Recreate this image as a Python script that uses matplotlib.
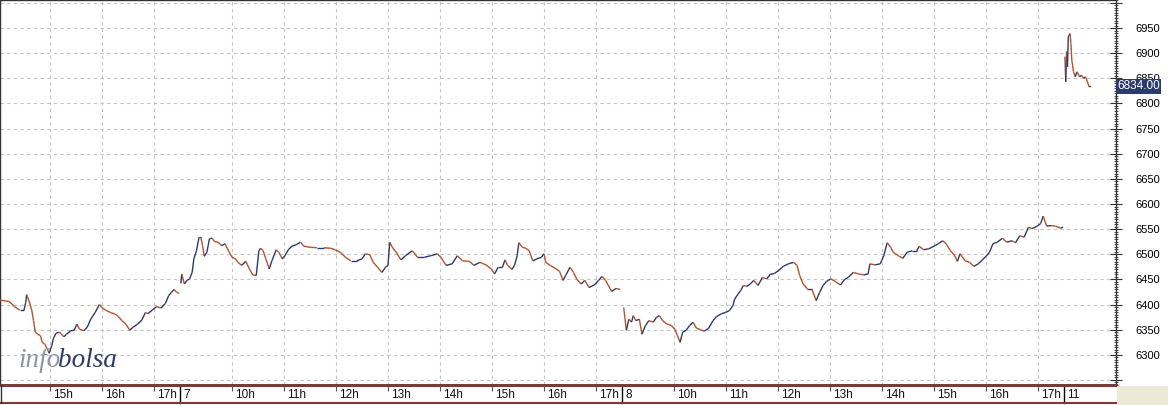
import numpy as np
import matplotlib.pyplot as plt
from matplotlib.collections import LineCollection
from matplotlib.lines import Line2D
from matplotlib.patches import Rectangle
from matplotlib.ticker import MultipleLocator
from matplotlib.transforms import ScaledTranslation, blended_transform_factory

# --- data (time, price) per session ---
t6 = ["14:02", "14:13", "14:19", "14:25", "14:30", "14:32", "14:33", "14:37", "14:39", "14:41",
      "14:43", "14:46", "14:49", "14:51", "14:54", "14:57", "14:59", "15:02", "15:04", "15:07",
      "15:11", "15:16", "15:19", "15:24", "15:28", "15:31", "15:34", "15:39", "15:43", "15:47",
      "15:52", "15:57", "16:00", "16:04", "16:10", "16:15", "16:19", "16:23", "16:28", "16:32",
      "16:36", "16:41", "16:46", "16:50", "16:53", "16:58", "17:03", "17:08", "17:13", "17:17",
      "17:20", "17:23", "17:26", "17:29"]
p6 = [6409, 6406, 6396, 6389, 6389, 6404, 6420, 6401, 6388, 6368,
      6345, 6341, 6338, 6325, 6321, 6311, 6303, 6318, 6333, 6343,
      6345, 6336, 6341, 6348, 6349, 6361, 6351, 6348, 6355, 6371,
      6384, 6400, 6394, 6389, 6384, 6381, 6376, 6368, 6360, 6349,
      6355, 6361, 6369, 6384, 6382, 6389, 6396, 6393, 6402, 6418,
      6424, 6430, 6425, 6422]

t7 = ["09:01", "09:02", "09:05", "09:08", "09:11", "09:14", "09:16", "09:19", "09:22", "09:24", "09:26",
      "09:28", "09:31", "09:34", "09:37", "09:40", "09:44", "09:48", "09:52", "09:56", "10:00",
      "10:04", "10:07", "10:11", "10:16", "10:20", "10:24", "10:28", "10:31", "10:33", "10:36",
      "10:39", "10:43", "10:46", "10:51", "10:54", "10:58", "11:01", "11:05", "11:09", "11:14",
      "11:19", "11:23", "11:30", "11:38", "11:46", "11:54", "11:59", "12:05", "12:11", "12:17",
      "12:24", "12:30", "12:34", "12:39", "12:43", "12:48", "12:53", "12:57", "13:00", "13:02",
      "13:05", "13:09", "13:15", "13:20", "13:28", "13:34", "13:42", "13:49", "13:57", "14:01",
      "14:07", "14:14", "14:20", "14:26", "14:34", "14:39", "14:46", "14:53", "14:59", "15:03",
      "15:07", "15:12", "15:15", "15:18", "15:23", "15:26", "15:29", "15:31", "15:35", "15:39",
      "15:43", "15:47", "15:52", "15:57", "16:00", "16:02", "16:07", "16:13", "16:18", "16:22",
      "16:25", "16:30", "16:34", "16:38", "16:43", "16:47", "16:52", "16:58", "17:03", "17:07",
      "17:11", "17:14", "17:18", "17:23", "17:28"]
p7 = [6442, 6461, 6441, 6448, 6451, 6464, 6491, 6507, 6534, 6534, 6517,
      6496, 6504, 6531, 6532, 6525, 6524, 6517, 6521, 6507, 6494,
      6491, 6484, 6478, 6486, 6471, 6459, 6458, 6507, 6512, 6507,
      6491, 6471, 6487, 6509, 6504, 6491, 6497, 6509, 6516, 6519,
      6524, 6516, 6514, 6513, 6513, 6512, 6509, 6504, 6494, 6487,
      6487, 6491, 6501, 6499, 6484, 6474, 6464, 6474, 6478, 6524,
      6514, 6505, 6489, 6497, 6507, 6494, 6494, 6497, 6501, 6494,
      6478, 6481, 6497, 6487, 6486, 6478, 6484, 6479, 6471, 6461,
      6474, 6474, 6489, 6478, 6470, 6478, 6497, 6523, 6514, 6512,
      6507, 6487, 6491, 6494, 6501, 6484, 6478, 6472, 6466, 6448,
      6458, 6474, 6464, 6450, 6441, 6448, 6434, 6439, 6448, 6456,
      6448, 6439, 6426, 6432, 6430]

t8 = ["09:02", "09:05", "09:08", "09:11", "09:13", "09:16", "09:20", "09:23", "09:27", "09:31",
      "09:36", "09:40", "09:43", "09:47", "09:51", "09:57", "10:01", "10:04", "10:07", "10:10",
      "10:14", "10:18", "10:22", "10:26", "10:32", "10:35", "10:40", "10:45", "10:49", "10:55",
      "10:59", "11:04", "11:08", "11:10", "11:14", "11:17", "11:20", "11:24", "11:28", "11:32",
      "11:37", "11:42", "11:47", "11:51", "11:56", "12:01", "12:06", "12:12", "12:18", "12:22",
      "12:25", "12:29", "12:34", "12:39", "12:44", "12:48", "12:52", "12:56", "13:01", "13:06",
      "13:12", "13:17", "13:21", "13:27", "13:33", "13:39", "13:44", "13:46", "13:52", "13:58",
      "14:02", "14:06", "14:10", "14:13", "14:19", "14:24", "14:29", "14:35", "14:40", "14:43",
      "14:48", "14:54", "15:00", "15:05", "15:10", "15:14", "15:19", "15:24", "15:27", "15:30",
      "15:36", "15:41", "15:46", "15:51", "15:56", "16:00", "16:04", "16:08", "16:13", "16:19",
      "16:24", "16:30", "16:34", "16:39", "16:44", "16:49", "16:53", "16:59", "17:03", "17:06",
      "17:10", "17:15", "17:20", "17:26", "17:29"]
p8 = [6394, 6349, 6371, 6365, 6378, 6368, 6371, 6341, 6358, 6368,
      6365, 6375, 6378, 6368, 6362, 6358, 6351, 6338, 6325, 6345,
      6349, 6358, 6365, 6353, 6349, 6347, 6353, 6368, 6376, 6382,
      6384, 6388, 6398, 6411, 6421, 6428, 6438, 6436, 6441, 6448,
      6438, 6454, 6451, 6460, 6462, 6468, 6476, 6481, 6484, 6478,
      6458, 6441, 6431, 6431, 6408, 6424, 6438, 6446, 6451, 6446,
      6439, 6450, 6454, 6464, 6461, 6459, 6461, 6481, 6479, 6481,
      6497, 6523, 6514, 6504, 6497, 6492, 6504, 6507, 6507, 6516,
      6509, 6511, 6516, 6521, 6527, 6521, 6507, 6497, 6486, 6501,
      6487, 6484, 6476, 6481, 6489, 6496, 6504, 6521, 6524, 6532,
      6524, 6527, 6523, 6537, 6534, 6554, 6551, 6556, 6561, 6576,
      6556, 6557, 6556, 6552, 6554]

t11 = ["09:01", "09:02", "09:03", "09:04", "09:05", "09:07", "09:08", "09:09", "09:11", "09:13",
       "09:15", "09:18", "09:20", "09:23", "09:25", "09:27", "09:29", "09:31"]
p11 = [6893, 6843, 6903, 6873, 6933, 6939, 6919, 6886, 6863, 6853,
       6863, 6853, 6856, 6850, 6853, 6843, 6833, 6834]

last_price = 6834.00

# session layout: day -> (opening clock hour, offset on the trading-hour axis)
sessions = {6: (14.0, 0.0), 7: (9.0, 3.5), 8: (9.0, 12.0), 11: (9.0, 20.5)}
hour_labels = [(6, 15), (6, 16), (6, 17),
               (7, 10), (7, 11), (7, 12), (7, 13), (7, 14), (7, 15), (7, 16), (7, 17),
               (8, 10), (8, 11), (8, 12), (8, 13), (8, 14), (8, 15), (8, 16), (8, 17)]
day_labels = [7, 8, 11]

UP = '#2d3a6b'
DOWN = '#b4532a'
RED_LINE = '#7a3b3b'


def clock_to_x(day, times):
    h0, off = sessions[day]
    return np.array([off + int(t[:2]) + int(t[3:]) / 60 - h0 for t in times])


fig = plt.figure(figsize=(11.68, 4.05), dpi=100)
fig.patch.set_facecolor('white')
W, H = 1168, 405
ax = fig.add_axes([0, 20 / H, 1116 / W, 385 / H])

# price line, coloured by direction of each step
for day, tt, pp in [(6, t6, p6), (7, t7, p7), (8, t8, p8), (11, t11, p11)]:
    x = clock_to_x(day, tt)
    y = np.array(pp, dtype=float)
    segs = np.stack([np.column_stack([x[:-1], y[:-1]]), np.column_stack([x[1:], y[1:]])], axis=1)
    cols = [UP if d >= 0 else DOWN for d in np.diff(y)]
    ax.add_collection(LineCollection(segs, colors=cols, linewidths=1.0, zorder=3))

ax.set_xlim(2 / 52, 21.5)
ax.set_ylim(6240, 7005.8)

# x axis: hour ticks + day separators
xt = [sessions[d][1] + h - sessions[d][0] for d, h in hour_labels]
ax.set_xticks(xt)
ax.set_xticklabels([])
ax.tick_params(axis='x', direction='out', length=4, width=0.8, color='#555555')

lab_tr = ax.get_xaxis_transform() + ScaledTranslation(0.03, -0.1, fig.dpi_scale_trans)
for (d, h), xv in zip(hour_labels, xt):
    ax.text(xv, 0, f'{h}h', transform=lab_tr, ha='left', va='center',
            fontsize=8.5, family='Liberation Sans', color='#111111')
for d in day_labels:
    xv = sessions[d][1]
    ax.plot([xv, xv], [0, -18 / 385], transform=ax.get_xaxis_transform(),
            color='black', lw=1, clip_on=False)
    ax.text(xv, 0, str(d), transform=lab_tr, ha='left', va='center',
            fontsize=8.5, family='Liberation Sans', color='#111111')

# y axis on the right
ax.yaxis.tick_right()
ax.set_yticks(np.arange(6250, 7001, 50))
ax.set_yticklabels(['' if v in (6250, 7000) else str(v) for v in np.arange(6250, 7001, 50)],
                   family='Liberation Sans', fontsize=8)
ax.yaxis.set_minor_locator(MultipleLocator(5))
ax.tick_params(axis='y', which='major', direction='inout', length=8, width=0.8,
               color='#333333', pad=10)
ax.tick_params(axis='y', which='minor', direction='inout', length=3, width=0.6,
               color='#333333')

ax.grid(True, which='major', color='#c4c4c4', linestyle=(0, (3, 3)), linewidth=0.8)
ax.set_axisbelow(True)

for side in ['top', 'left', 'right']:
    ax.spines[side].set_color('#333333')
    ax.spines[side].set_linewidth(1)
ax.spines['bottom'].set_color(RED_LINE)
ax.spines['bottom'].set_linewidth(2.2)

# bottom border of the label strip and beige corner
fig.add_artist(Line2D([0, 1116 / W], [2.5 / H, 2.5 / H], color=RED_LINE, lw=1.5))
fig.add_artist(Line2D([0.5 / W, 0.5 / W], [2.5 / H, 20 / H], color='#333333', lw=1))
fig.add_artist(Rectangle((1117 / W, 0), 51 / W, 19 / H, color='#ece9d8', lw=0))

# last price tag
tag_tr = blended_transform_factory(ax.transAxes, ax.transData)
ax.text(1.001, last_price, f'{last_price:.2f}', transform=tag_tr, ha='left', va='center',
        fontsize=8.5, family='Liberation Sans', color='white', clip_on=False, zorder=5,
        bbox=dict(boxstyle='square,pad=0.1', fc='#2b3b6e', ec='none'))

# infobolsa watermark
fig.text(18 / W, (H - 367) / H, 'info', fontsize=19.5, family='Liberation Serif',
         style='italic', color='#8e95a8')
fig.text(58 / W, (H - 367) / H, 'bolsa', fontsize=19.5, family='Liberation Serif',
         style='italic', color='#2e3b63')

fig.savefig('out.png', dpi=100)
